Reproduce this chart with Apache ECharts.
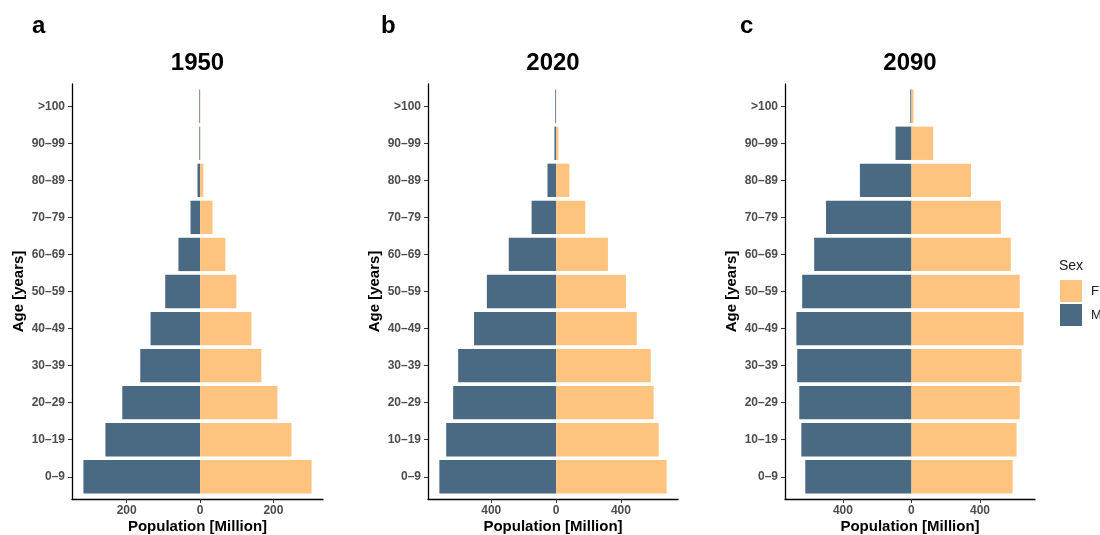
<!DOCTYPE html>
<html>
<head>
<meta charset="utf-8">
<title>Population pyramids 1950, 2020, 2090</title>
<script src="https://cdn.jsdelivr.net/npm/echarts@6/dist/echarts.min.js"></script>
<style>
  html, body { margin: 0; padding: 0; background: #ffffff; }
  #chart { width: 1100px; height: 535px; }
</style>
</head>
<body>
<div id="chart"></div>
<script>
// Age groups, bottom to top
const ageGroups = ['0–9', '10–19', '20–29', '30–39', '40–49', '50–59', '60–69', '70–79', '80–89', '90–99', '>100'];

// Population in millions per age group
const female1950 = [304, 249, 211, 167, 140, 99, 69, 34, 9, 1, 0.5];
const male1950   = [318, 258, 212, 163, 135, 95, 59, 26, 7, 2, 2];
const female2020 = [682, 633, 602, 584, 498, 431, 320, 180, 82, 14, 1];
const male2020   = [720, 678, 635, 604, 506, 427, 292, 151, 53, 10, 5];
const female2090 = [591, 614, 632, 643, 655, 632, 580, 522, 348, 127, 12];
const male2090   = [620, 643, 655, 667, 672, 638, 568, 499, 301, 93, 7];

// Population tick values (shown as absolute numbers)
const ticks1950 = [-200, 0, 200];
const ticks2020 = [-400, 0, 400];
const ticks2090 = [-400, 0, 400];

const years = ['1950', '2020', '2090'];
const tags = ['a', 'b', 'c'];

const COLOR_F = '#FEC47F';
const COLOR_M = '#4A6982';
const FONT = '"Liberation Sans", Arial, Helvetica, sans-serif';

const panels = [
  { male: male1950, female: female1950, ticks: ticks1950, left: 72,  right: 777, tagX: 32 },
  { male: male2020, female: female2020, ticks: ticks2020, left: 428, right: 422, tagX: 381 },
  { male: male2090, female: female2090, ticks: ticks2090, left: 785, right: 65,  tagX: 740 }
];

// Panel frame (axis lines) and the inner band area: the category axis
// is inset by 0.6 of a band on each end, so 11 bands fill 10 + 1.2 units.
const FRAME_TOP = 84;
const FRAME_BOTTOM_Y = 499;
const nCat = ageGroups.length;
const unit = (FRAME_BOTTOM_Y - FRAME_TOP) / (nCat - 1 + 1.2);
const INNER_TOP = FRAME_TOP + 0.1 * unit;
const INNER_BOTTOM_Y = FRAME_BOTTOM_Y - 0.1 * unit;

const grids = [], xAxes = [], yAxes = [], series = [], graphics = [];

panels.forEach((p, i) => {
  // axis limits with 5% padding on each side of the data range
  const maxM = Math.max(...p.male);
  const maxF = Math.max(...p.female);
  const pad = 0.05 * (maxM + maxF);
  const xMin = -maxM - pad;
  const xMax = maxF + pad;

  // outer grid: axis lines, population ticks and labels
  const outer = grids.length;
  grids.push({ left: p.left, right: p.right, top: FRAME_TOP, bottom: 535 - FRAME_BOTTOM_Y });
  xAxes.push({
    type: 'value',
    gridIndex: outer,
    min: xMin,
    max: xMax,
    splitLine: { show: false },
    axisLine: { show: true, onZero: false, lineStyle: { color: '#000000', width: 1.3 } },
    axisTick: { show: true, customValues: p.ticks, length: 4, lineStyle: { color: '#333333', width: 1 } },
    axisLabel: {
      customValues: p.ticks,
      formatter: v => String(Math.abs(v)),
      color: '#4D4D4D',
      fontFamily: FONT,
      fontWeight: 'bold',
      fontSize: 12,
      margin: 6
    }
  });
  yAxes.push({
    type: 'value',
    gridIndex: outer,
    min: 0,
    max: 1,
    splitLine: { show: false },
    axisLine: { show: true, onZero: false, lineStyle: { color: '#000000', width: 1.3 } },
    axisTick: { show: false },
    axisLabel: { show: false }
  });

  // inner grid: bars and age-group labels
  const inner = grids.length;
  grids.push({ left: p.left, right: p.right, top: INNER_TOP, bottom: 535 - INNER_BOTTOM_Y });
  xAxes.push({
    type: 'value',
    gridIndex: inner,
    min: xMin,
    max: xMax,
    show: false
  });
  yAxes.push({
    type: 'category',
    gridIndex: inner,
    data: ageGroups,
    axisLine: { show: false, onZero: false },
    axisTick: { show: true, alignWithLabel: true, length: 4, lineStyle: { color: '#333333', width: 1 } },
    axisLabel: {
      color: '#4D4D4D',
      fontFamily: FONT,
      fontWeight: 'bold',
      fontSize: 12,
      margin: 7
    },
    splitLine: { show: false }
  });

  series.push({
    type: 'bar',
    name: 'M',
    xAxisIndex: inner,
    yAxisIndex: inner,
    stack: 'pop' + i,
    barCategoryGap: '10%',
    data: p.male.map(v => -v),
    itemStyle: { color: COLOR_M },
    silent: true
  });
  series.push({
    type: 'bar',
    name: 'F',
    xAxisIndex: inner,
    yAxisIndex: inner,
    stack: 'pop' + i,
    barCategoryGap: '10%',
    data: p.female,
    itemStyle: { color: COLOR_F },
    silent: true
  });

  const cx = p.left + (1100 - p.left - p.right) / 2;
  const cy = (FRAME_TOP + FRAME_BOTTOM_Y) / 2;

  // panel tag
  graphics.push({
    type: 'text', left: p.tagX, top: 14,
    style: { text: tags[i], font: 'bold 24px ' + FONT, fill: '#000000' }
  });
  // panel year title
  graphics.push({
    type: 'text', x: cx, y: 63,
    style: { text: years[i], font: 'bold 24px ' + FONT, fill: '#000000', align: 'center', verticalAlign: 'middle' }
  });
  // y-axis title
  graphics.push({
    type: 'text', x: p.left - 53, y: cy, rotation: Math.PI / 2,
    style: { text: 'Age [years]', font: 'bold 15px ' + FONT, fill: '#000000', align: 'center', verticalAlign: 'middle' }
  });
  // x-axis title
  graphics.push({
    type: 'text', x: cx, y: 527,
    style: { text: 'Population [Million]', font: 'bold 15px ' + FONT, fill: '#000000', align: 'center', verticalAlign: 'middle' }
  });
});

// legend title
graphics.push({
  type: 'text', x: 1059, y: 266,
  style: { text: 'Sex', font: '14px ' + FONT, fill: '#1A1A1A', align: 'left', verticalAlign: 'middle' }
});

const chart = echarts.init(document.getElementById('chart'), null, { renderer: 'canvas' });
chart.setOption({
  animation: false,
  backgroundColor: '#ffffff',
  grid: grids,
  xAxis: xAxes,
  yAxis: yAxes,
  series: series,
  legend: {
    data: ['F', 'M'],
    orient: 'vertical',
    left: 1055,
    top: 275,
    icon: 'rect',
    itemWidth: 22,
    itemHeight: 22,
    itemGap: 2,
    selectedMode: false,
    textStyle: { fontFamily: FONT, fontSize: 13, color: '#1A1A1A', padding: [0, 0, 0, 4] }
  },
  graphic: graphics
});
</script>
</body>
</html>
